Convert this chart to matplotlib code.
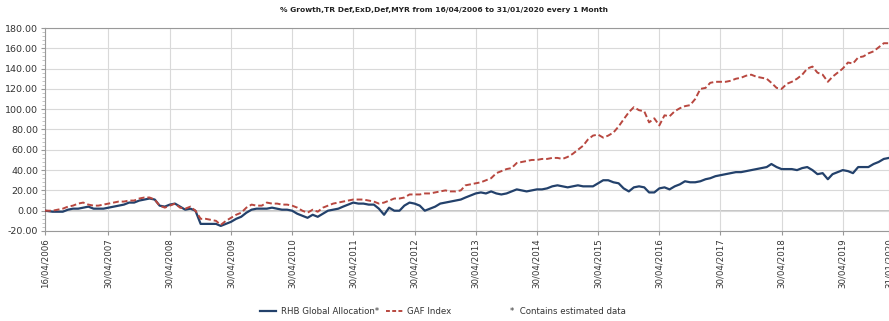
import matplotlib
matplotlib.use("Agg")
import matplotlib.pyplot as plt
import matplotlib.dates as mdates
from matplotlib.lines import Line2D
import pandas as pd
import datetime as dt

title = "% Growth,TR Def,ExD,Def,MYR from 16/04/2006 to 31/01/2020 every 1 Month"
series_names = ["RHB Global Allocation*", "GAF Index"]
note = "*  Contains estimated data"

start_date = "2006-04-16"
end_date = "2020-01-31"

rhb = [0, -1, -1, -1, 1, 2, 2, 3, 4, 2, 2, 2,
       3, 4, 5, 6, 8, 8, 10, 11, 12, 11, 5, 4,
       6, 7, 4, 1, 2, 0, -13, -13, -13, -13, -15, -13,
       -11, -8, -6, -2, 1, 2, 2, 2, 3, 2, 1, 1,
       0, -3, -5, -7, -4, -6, -3, 0, 1, 2, 4, 6,
       8, 7, 7, 6, 6, 2, -4, 3, 0, 0, 5, 8,
       7, 5, 0, 2, 4, 7, 8, 9, 10, 11, 13, 15,
       17, 18, 17, 19, 17, 16, 17, 19, 21, 20, 19, 20,
       21, 21, 22, 24, 25, 24, 23, 24, 25, 24, 24, 24,
       27, 30, 30, 28, 27, 22, 19, 23, 24, 23, 18, 18,
       22, 23, 21, 24, 26, 29, 28, 28, 29, 31, 32, 34,
       35, 36, 37, 38, 38, 39, 40, 41, 42, 43, 46, 43,
       41, 41, 41, 40, 42, 43, 40, 36, 37, 31, 36, 38,
       40, 39, 37, 43, 43, 43, 46, 48, 51, 52]

gaf = [0, 0, 1, 2, 4, 5, 7, 8, 6, 5, 5, 6,
       7, 8, 9, 9, 10, 10, 12, 13, 13, 11, 5, 3,
       5, 7, 3, 2, 4, 0, -8, -8, -9, -10, -14, -10,
       -7, -4, -2, 3, 6, 5, 5, 8, 7, 7, 6, 6,
       5, 3, 0, -2, 1, -1, 3, 5, 7, 8, 9, 10,
       11, 11, 11, 10, 9, 7, 8, 10, 12, 12, 13, 16,
       16, 16, 17, 17, 18, 19, 20, 19, 19, 20, 25, 26,
       27, 28, 30, 32, 37, 39, 41, 42, 47, 48, 49, 50,
       50, 51, 51, 52, 52, 51, 53, 56, 60, 64, 70, 74,
       75, 72, 74, 77, 83, 90, 97, 102, 99, 98, 87, 91,
       84, 94, 93, 98, 101, 103, 104, 110, 120, 121, 126, 127,
       127, 127, 128, 130, 131, 133, 134, 132, 131, 130, 126, 121,
       120, 125, 127, 130, 134, 140, 142, 136, 134, 127, 132, 136,
       140, 146, 145, 151, 152, 155, 157, 161, 165, 165]

tick_labels = ["16/04/2006", "30/04/2007", "30/04/2008", "30/04/2009", "30/04/2010",
               "30/04/2011", "30/04/2012", "30/04/2013", "30/04/2014", "30/04/2015",
               "30/04/2016", "30/04/2017", "30/04/2018", "30/04/2019", "31/01/2020"]
y_ticks = [-20, 0, 20, 40, 60, 80, 100, 120, 140, 160, 180]

dates = [pd.Timestamp(start_date)] + list(pd.date_range("2006-05-31", end_date, freq="ME"))
tick_dates = [pd.Timestamp(dt.datetime.strptime(t, "%d/%m/%Y")) for t in tick_labels]

fig = plt.figure(figsize=(8.89, 3.21), dpi=100)
ax = fig.add_axes([45/889, 1-231/321, 1-45/889, (231-28)/321])

rhb_color = "#23416b"
gaf_color = "#b8473f"
ax.plot(dates, rhb, color=rhb_color, lw=1.6, zorder=3)
ax.plot(dates, gaf, color=gaf_color, lw=1.4, ls=(0, (3, 1.5)), zorder=3)

ax.set_xlim(pd.Timestamp(start_date), pd.Timestamp(end_date))
ax.set_ylim(-20, 180)
ax.set_yticks(y_ticks)
ax.set_yticklabels([f"{v:.2f}" for v in y_ticks], fontsize=6.8, color="#333333")
ax.yaxis.set_minor_locator(matplotlib.ticker.MultipleLocator(4))
ax.set_xticks(tick_dates)
ax.set_xticklabels(tick_labels, rotation=90, fontsize=6.2, color="#333333")
ax.tick_params(axis="both", length=3, color="#999999", pad=2)
ax.tick_params(axis="y", which="minor", length=2, color="#bbbbbb")

ax.grid(True, which="major", color="#d9d9d9", lw=0.8)
ax.axhline(0, color="#bbbbbb", lw=1.2, zorder=1)
for s in ["top", "left", "bottom"]:
    ax.spines[s].set_color("#999999")
    ax.spines[s].set_linewidth(0.8)
ax.spines["right"].set_visible(False)

fig.text(0.5, 1-10/321, title, ha="center", va="center", fontsize=5.4,
         fontweight="bold", color="#222222")

handles = [Line2D([0], [0], color=rhb_color, lw=1.6),
           Line2D([0], [0], color=gaf_color, lw=1.4, ls=(0, (2, 1.2)))]
leg = fig.legend(handles, series_names, loc="center", bbox_to_anchor=(0.40, 1-312/321),
                 ncol=2, frameon=False, fontsize=6.2, handlelength=1.9,
                 columnspacing=0.9, handletextpad=0.5)
for t in leg.get_texts():
    t.set_color("#333333")
fig.text(510/889, 1-312/321, note, ha="left", va="center", fontsize=6.2, color="#333333")

fig.savefig("out.png", dpi=100)
